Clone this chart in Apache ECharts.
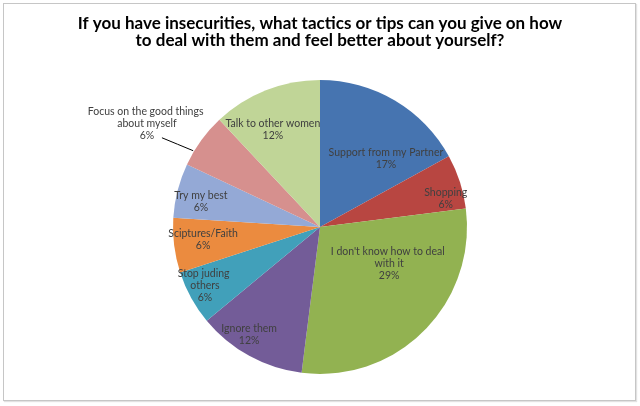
<!DOCTYPE html>
<html>
<head>
<meta charset="utf-8">
<script src="https://cdn.jsdelivr.net/npm/echarts@6/dist/echarts.min.js"></script>
<style>
  html, body { margin: 0; padding: 0; background: #fff; }
  #wrap { position: relative; width: 640px; height: 406px; }
  #frame {
    position: absolute; left: 3px; top: 3px; width: 631px; height: 396px;
    border: 1px solid #c6c6c6; box-shadow: 1px 1px 1px #e2e2e2;
  }
  #chart { position: absolute; left: 0; top: 0; width: 640px; height: 406px; }
</style>
</head>
<body>
<div id="wrap">
  <div id="frame"></div>
  <div id="chart"></div>
</div>
<script>
  // 各项占比（%）
  const categories = [
    "Support from my Partner",
    "Shopping",
    "I don't know how to deal with it",
    "Ignore them",
    "Stop juding others",
    "Sciptures/Faith",
    "Try my best",
    "Focus on the good things about myself",
    "Talk to other women"
  ];
  const shares = [17, 6, 29, 12, 6, 6, 6, 6, 12];

  const sliceColors = [
    "#4674b0", "#b84641", "#92b251", "#735c98", "#41a0ba",
    "#eb8b3f", "#94a9d6", "#d6908e", "#c0d597"
  ];

  // 标签相对默认位置的微调（Excel 的 "best fit" 位置）
  const labelNudge = [
    [27, -3], [53, -5], [15, -17], [-34, 41], [-48, 22],
    [-41, 3], [-45, -6], [44, -8], [-19, -26]
  ];
  const wrapWidth = { 2: 125, 4: 70, 7: 132 };
  const OUTSIDE = 7;

  const CX = 320, CY = 227, R = 147;

  const chart = echarts.init(document.getElementById("chart"));

  const total = shares.reduce((a, b) => a + b, 0);

  const pieData = categories.map((name, i) => {
    const item = {
      name: name,
      value: shares[i],
      itemStyle: { color: sliceColors[i] }
    };
    const lbl = {};
    if (wrapWidth[i]) { lbl.width = wrapWidth[i]; lbl.overflow = "break"; }
    if (i === OUTSIDE) {
      lbl.position = "outside";
      item.labelLine = { show: true };
    }
    item.label = lbl;
    return item;
  });

  // 引线落在扇区边缘上靠前约 1/4 处（和 Excel 一样）
  function leaderEnd(idx) {
    let before = 0;
    for (let k = 0; k < idx; k++) before += shares[k];
    const a = (before + shares[idx] * 0.27) / total * Math.PI * 2;
    return [CX + (R + 1) * Math.sin(a), CY - (R + 1) * Math.cos(a)];
  }

  chart.setOption({
    animation: false,
    title: {
      text: "If you have insecurities, what tactics or tips can you give on how\nto deal with them and feel better about yourself?",
      left: "center",
      top: 10,
      textStyle: {
        fontFamily: "Lato",
        fontSize: 17,
        lineHeight: 17,
        fontWeight: "bold",
        color: "#000"
      }
    },
    series: [{
      type: "pie",
      center: [CX, CY],
      radius: R,
      startAngle: 90,
      clockwise: true,
      itemStyle: { borderWidth: 0 },
      label: {
        show: true,
        position: "inside",
        formatter: p => p.name + "\n" + p.value + "%",
        fontFamily: "Lato",
        fontSize: 10.5,
        lineHeight: 12,
        color: "#404040",
        align: "center"
      },
      labelLine: {
        show: false,
        length: 15,
        length2: 15,
        lineStyle: { color: "#000", width: 1 }
      },
      labelLayout: function (p) {
        const n = labelNudge[p.dataIndex];
        const x = p.labelRect.x + p.labelRect.width / 2 + n[0];
        const y = p.labelRect.y + p.labelRect.height / 2 + n[1];
        const out = { x: x, y: y, align: "center", verticalAlign: "middle" };
        if (p.dataIndex === OUTSIDE) {
          // 引线：从 "6%" 右下方连到扇区边缘
          const start = [x + 15, y + 14];
          const end = leaderEnd(p.dataIndex);
          out.labelLinePoints = [start, [(start[0] + end[0]) / 2, (start[1] + end[1]) / 2], end];
        }
        return out;
      },
      emphasis: { disabled: true },
      data: pieData
    }]
  });
</script>
</body>
</html>
